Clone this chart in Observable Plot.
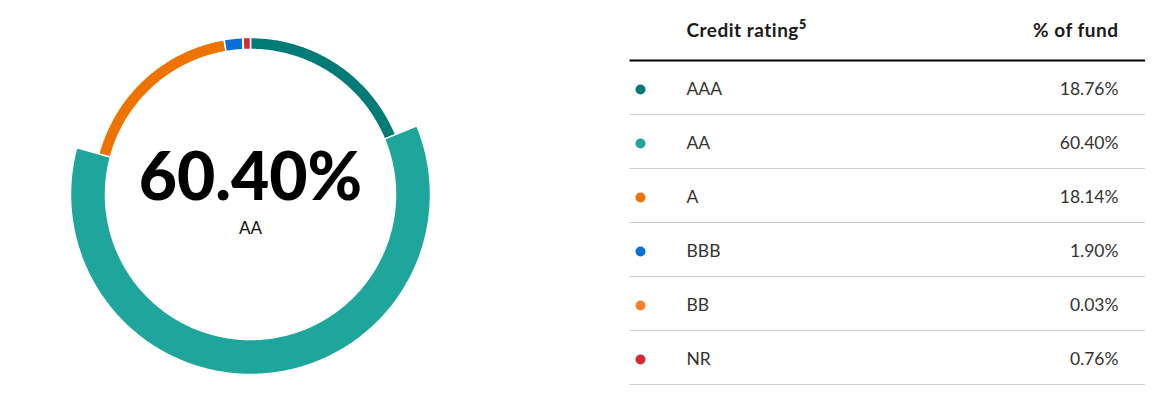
<!DOCTYPE html>
<html><head><meta charset="utf-8">
<script src="https://cdn.jsdelivr.net/npm/d3@7"></script>
<script src="https://cdn.jsdelivr.net/npm/@observablehq/plot@0.6"></script>
<style>
body{margin:0;background:#fff;font-family:Lato,"Open Sans",sans-serif;}
#wrap{position:relative;width:1165px;height:403px;overflow:hidden;}
#donut{position:absolute;left:0;top:0;}
#table{position:absolute;left:620px;top:0;}
.hdr text{letter-spacing:0.5px;}
.hdr tspan{letter-spacing:0;}
</style></head><body><div id="wrap"><div id="donut"></div><div id="table"></div></div>
<script>
const ratings = ["AAA", "AA", "A", "BBB", "BB", "NR"];
const percents = [18.76, 60.40, 18.14, 1.90, 0.03, 0.76];
const colors = ["#007b75", "#1ea59c", "#ef7300", "#0a70d8", "#f5822b", "#d42a36"];
const highlight = "AA";
const headerLabel = "Credit rating";
const headerNote = "5";
const headerValue = "% of fund";

const fmt = v => v.toFixed(2) + "%";
const rows = ratings.map((r, i) => ({rating: r, value: percents[i]}));

// donut geometry (styles)
const R_IN = 145, R_THIN = 157, R_BIG = 180;
const total = d3.sum(percents);
let cum = 0;
const arcPoints = [];
rows.forEach(d => {
  const a0 = cum / total * 2 * Math.PI;
  cum += d.value;
  const a1 = cum / total * 2 * Math.PI;
  const ro = d.rating === highlight ? R_BIG : R_THIN;
  const n = Math.max(2, Math.ceil((a1 - a0) / (Math.PI / 360)));
  for (let k = 0; k <= n; k++) { const a = a0 + (a1 - a0) * k / n; arcPoints.push({rating: d.rating, x: ro * Math.sin(a), y: ro * Math.cos(a)}); }
  for (let k = n; k >= 0; k--) { const a = a0 + (a1 - a0) * k / n; arcPoints.push({rating: d.rating, x: R_IN * Math.sin(a), y: R_IN * Math.cos(a)}); }
});

const hi = rows.find(d => d.rating === highlight);

const donut = Plot.plot({
  width: 500, height: 403, margin: 0,
  style: {fontFamily: "Lato, sans-serif", background: "white"},
  x: {domain: [-250, 250], axis: null},
  y: {domain: [-209, 194], axis: null},
  color: {domain: ratings, range: colors},
  marks: [
    Plot.line(arcPoints, {x: "x", y: "y", z: "rating", fill: "rating", stroke: "white", strokeWidth: 1.5, curve: "linear-closed"}),
    Plot.text([hi], {x: 0, y: 0, text: d => fmt(d.value), fontSize: 66, fontWeight: 900, fill: "#000", dy: -16, fontFamily: "Lato, sans-serif"}),
    Plot.text([hi], {x: 0, y: 0, text: "rating", fontSize: 17, fill: "#111", dy: 34, fontFamily: "Lato, sans-serif"})
  ]
});
document.getElementById("donut").append(donut);

const table = Plot.plot({
  width: 545, height: 403, margin: 0,
  style: {fontFamily: "Lato, sans-serif", background: "white"},
  x: {domain: [0, 545], axis: null},
  y: {type: "point", domain: ratings, range: [89, 359], padding: 0, axis: null},
  color: {domain: ratings, range: colors},
  marks: [
    Plot.ruleY(rows, {y: "rating", x1: 9.5, x2: 525, dy: 25, stroke: "#cccccc", strokeWidth: 1}),
    Plot.ruleY([rows[0]], {y: "rating", x1: 9.5, x2: 525, dy: -29, stroke: "#000", strokeWidth: 2}),
    Plot.dot(rows, {x: 20, y: "rating", r: 5, fill: "rating", stroke: null}),
    Plot.text(rows, {x: 66, y: "rating", text: "rating", textAnchor: "start", fontSize: 17.5, fill: "#333"}),
    Plot.text(rows, {x: 498, y: "rating", text: d => fmt(d.value), textAnchor: "end", fontSize: 17.5, fill: "#333"}),
    Plot.text([headerLabel], {frameAnchor: "top-left", dx: 66, dy: 30, lineAnchor: "middle", textAnchor: "start", fontSize: 19, fontWeight: 700, fill: "#1a1a1a", className: "hdr"}),
    Plot.text([headerValue], {frameAnchor: "top-left", dx: 498, dy: 30, lineAnchor: "middle", textAnchor: "end", fontSize: 19, fontWeight: 700, fill: "#1a1a1a", className: "hdr"})
  ]
});
document.getElementById("table").append(table);
// superscript note on header label
d3.select(table).select(".hdr text").append("tspan")
  .attr("font-size", 12.5).attr("font-weight", 800).attr("dy", "-0.6em").text(headerNote);
</script></body></html>
